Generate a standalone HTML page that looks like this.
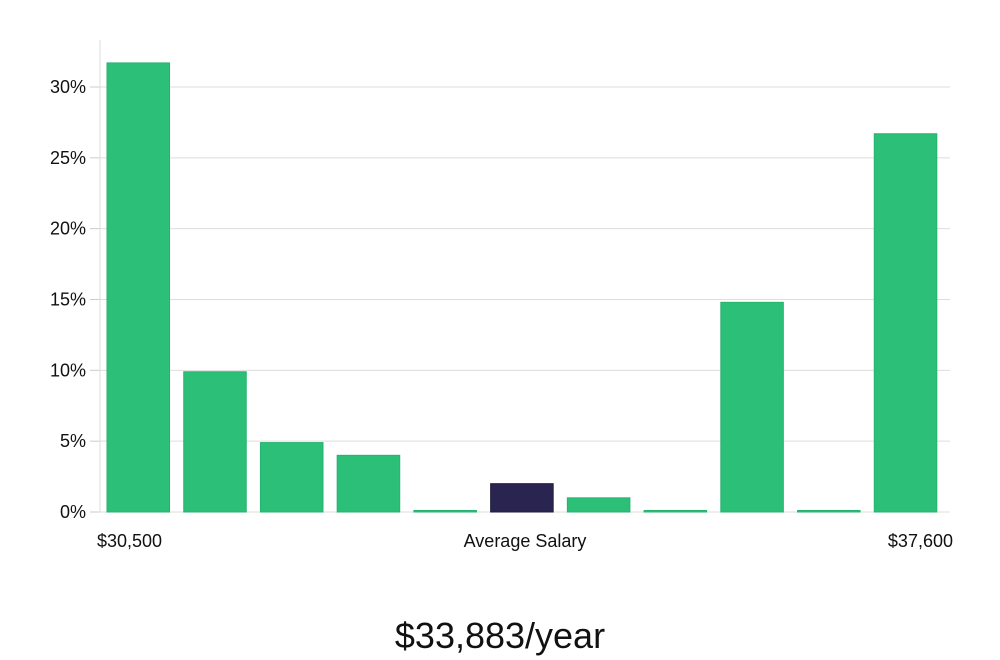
<!DOCTYPE html>
<html><head><meta charset="utf-8"><style>
body{margin:0;background:#fff;font-family:"Liberation Sans","DejaVu Sans",sans-serif;}
svg{display:block}
</style></head><body>
<svg id="chart" width="1000" height="660"></svg>
<script>
const categories=["b1","b2","b3","b4","b5","b6","b7","b8","b9","b10","b11"];
const values=[31.7,9.9,4.9,4.0,0,2.0,1.0,0,14.8,0,26.7];
const highlight=[false,false,false,false,false,true,false,false,false,false,false];
const yTicks=[0,5,10,15,20,25,30];
const yTickLabels=["0%","5%","10%","15%","20%","25%","30%"];
const svg=document.getElementById('chart');
const NS='http://www.w3.org/2000/svg';
const x0=100,x1=950,y0=512,yMax=30,yTop=87;
function y(v){return y0-(v/yMax)*(y0-yTop);}
const step=(x1-x0-6)/categories.length, bw=step*0.815;
function x(i){return x0+7+i*step;}
function mk(t,a,txt){const e=document.createElementNS(NS,t);for(const k in a)e.setAttribute(k,a[k]);if(txt!=null)e.textContent=txt;svg.appendChild(e);return e;}
yTicks.forEach((t,i)=>{
 const g=mk('line',{x1:x0,x2:x1,y1:y(t),y2:y(t),stroke:'#ddd','stroke-width':1});
 
 
 const tk=mk('line',{x1:90,x2:x0,y1:y(t),y2:y(t),stroke:'#ccc','stroke-width':1});
 
 
 const l=mk('text',{x:86,y:y(t)+6,'text-anchor':'end','font-size':18,fill:'#111'},yTickLabels[i]);
 
 
});
const ax=mk('line',{x1:x0,x2:x0,y1:40,y2:y0,stroke:'#ddd','stroke-width':1});


values.forEach((v,i)=>{
 const h=Math.max(y0-y(v),1.5);
 const r=mk('rect',{x:x(i),y:y0-h,width:bw,height:h,fill:highlight[i]?'#2a2550':'#2bbf77',stroke:highlight[i]?'#1d1a3d':'#27b36f','stroke-width':1});
 
 
});
const labs=[["$30,500",97,'start'],["Average Salary",525,'middle'],["$37,600",953,'end']];
labs.forEach(([t,xx,a])=>{
 const e=mk('text',{x:xx,y:547,'text-anchor':a,'font-size':18,fill:'#111'},t);
 
 
});
const ttl=mk('text',{x:500,y:648,'text-anchor':'middle','font-size':36,fill:'#111'},"$33,883/year");


</script>
</body></html>
